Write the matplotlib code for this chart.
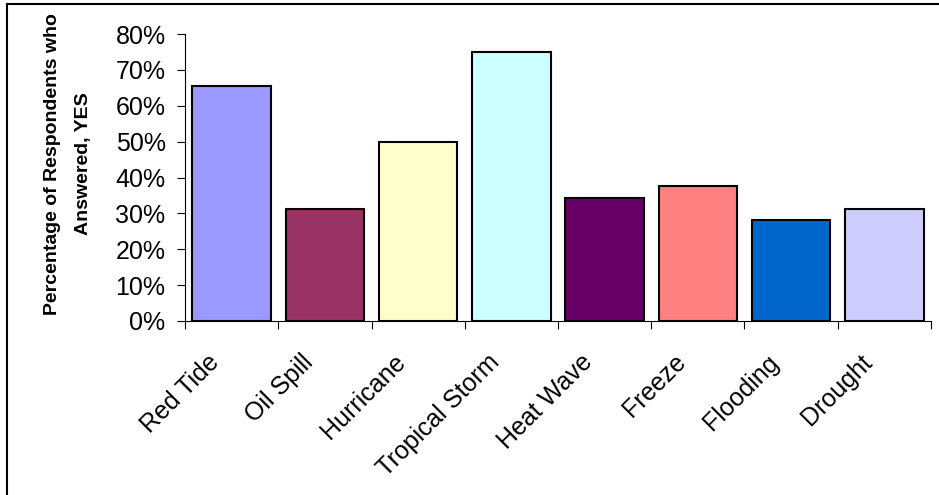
import numpy as np
import matplotlib.pyplot as plt
import matplotlib.transforms as mtransforms
from matplotlib.ticker import PercentFormatter, FixedLocator
from matplotlib.lines import Line2D

# survey results: share of respondents answering YES
events = ['Red Tide', 'Oil Spill', 'Hurricane', 'Tropical Storm',
          'Heat Wave', 'Freeze', 'Flooding', 'Drought']
yes_share = [65.6, 31.25, 50.0, 75.0, 34.4, 37.5, 28.1, 31.25]
bar_colors = ['#9999FF', '#993366', '#FFFFCC', '#CCFFFF',
              '#660066', '#FF8080', '#0066CC', '#CCCCFF']
y_ticks = [0, 10, 20, 30, 40, 50, 60, 70, 80]

plt.rcParams['font.family'] = ['Liberation Sans', 'DejaVu Sans']

fig = plt.figure(figsize=(9.39, 4.95), dpi=100)
ax = fig.add_axes([185 / 939, 1 - 321 / 495, 746 / 939, 287 / 495])

x = np.arange(len(events))
ax.bar(x, yes_share, width=0.84, color=bar_colors,
       edgecolor='black', linewidth=1.5, zorder=3)

ax.set_xlim(-0.5, len(events) - 0.5)
ax.set_ylim(0, 80)
ax.yaxis.set_major_locator(FixedLocator(y_ticks))
ax.yaxis.set_major_formatter(PercentFormatter(decimals=0))

# category labels in the middle, tick marks on the boundaries
ax.set_xticks(x)
ax.set_xticklabels(events, rotation=45, ha='right', va='center',
                   rotation_mode='anchor')
ax.set_xticks(np.arange(len(events) + 1) - 0.5, minor=True)
ax.tick_params(axis='x', which='major', length=0, pad=27, labelsize=18)
ax.tick_params(axis='x', which='minor', length=6, width=0.8, direction='out')
ax.tick_params(axis='y', length=6, width=0.8, direction='out', labelsize=18, pad=8)

# nudge the slanted labels left so their ends sit under the bars
shift = mtransforms.ScaledTranslation(-16 / 100, 0, fig.dpi_scale_trans)
for lbl in ax.get_xticklabels():
    lbl.set_transform(lbl.get_transform() + shift)

for side in ['top', 'right']:
    ax.spines[side].set_visible(False)
for side in ['left', 'bottom']:
    ax.spines[side].set_linewidth(0.8)

fig.text(68 / 939, 1 - 164 / 495,
         'Percentage of Respondents who\nAnswered, YES',
         rotation=90, ha='center', va='center', fontsize=14,
         fontweight='bold', linespacing=2.05)

# chart area frame
fig.add_artist(Line2D([7 / 939, 1], [1 - 4 / 495, 1 - 4 / 495],
                      transform=fig.transFigure, color='black', linewidth=1.5))
fig.add_artist(Line2D([7 / 939, 7 / 939], [0, 1 - 4 / 495],
                      transform=fig.transFigure, color='black', linewidth=1.5))

fig.savefig('out.png', dpi=100)
